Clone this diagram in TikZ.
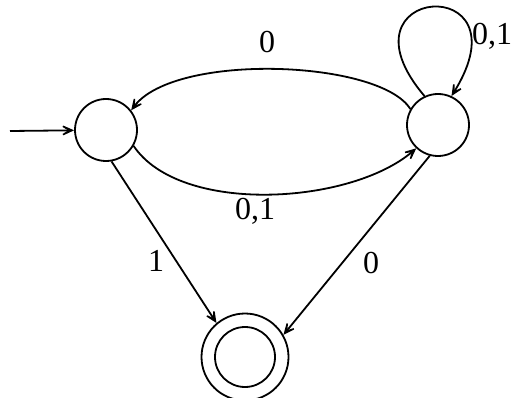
\documentclass[tikz,border=0pt]{standalone}
\usepackage{fontspec}
\setmainfont{Liberation Serif}
\usetikzlibrary{arrows.meta}
\begin{document}
\begin{tikzpicture}[x=1pt,y=-1pt,
  state/.style={draw,circle,line width=1.8pt,minimum size=62pt,inner sep=0pt},
  edge/.style={line width=1.8pt,-{Stealth[length=20pt,width=18pt,inset=14pt]}},
  lab/.style={inner sep=0pt,font=\fontsize{32}{36}\selectfont}]
\useasboundingbox (0,0) rectangle (514,398);
\node[state] (q0) at (106,130) {};
\node[state] (q1) at (438,125) {};
\node[state,minimum size=87pt] (q2) at (245,357) {};
\node[draw,circle,line width=1.8pt,minimum size=60pt,inner sep=0pt] (q2i) at (q2.center) {};
\coordinate (s) at (10,131);
\draw[edge] (s) -- (q0);
% top edge q1 -> q0
\draw[edge] (q1.150) .. controls (380,60) and (175,52) .. (q0.38);
% bottom edge q0 -> q1
\draw[edge] (q0.-30) .. controls (180,215) and (350,205) .. (q1.-133);
% self loop
\draw[edge] (q1.115) .. controls (330,-15) and (530,-30) .. (q1.65);
% to accepting
\draw[edge] (q0.-80) -- (q2.130);
\draw[edge] (q1.-105) -- (q2.30);
% labels
\node[lab] (l1) at (267,42) {0};
\node[lab] (l2) at (255,211) {0,1};
\node[lab] (l3) at (156,261) {1};
\node[lab] (l4) at (371,263) {0};
\node[lab,anchor=west] (l5) at (472,36) {0,1};
\end{tikzpicture}
\end{document}
